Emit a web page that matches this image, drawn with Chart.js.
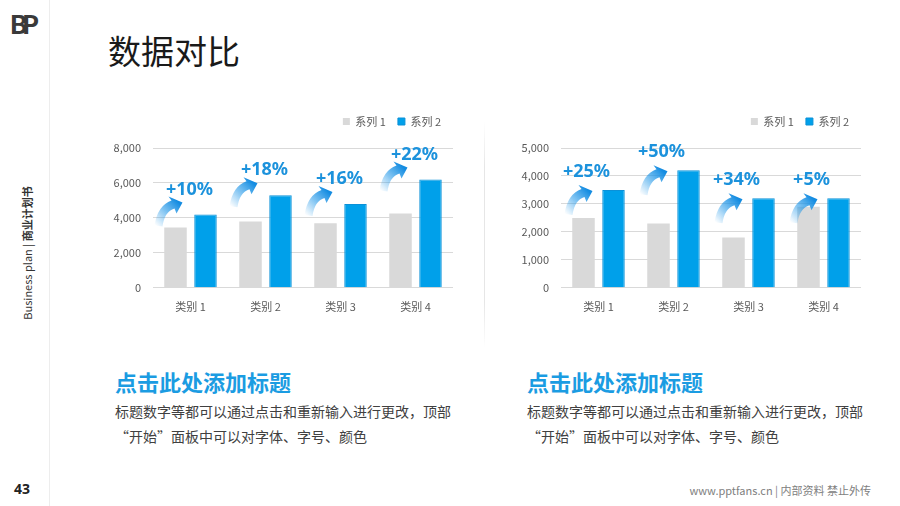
<!DOCTYPE html>
<html>
<head>
<meta charset="utf-8">
<script src="https://cdn.jsdelivr.net/npm/chart.js@4.4.0/dist/chart.umd.min.js"></script>
<style>
  html, body { margin: 0; padding: 0; background: #fff; }
  body { width: 900px; height: 506px; position: relative; overflow: hidden;
         font-family: "Noto Sans CJK SC", "Noto Sans", sans-serif; }
  .abs { position: absolute; }
  .logo { left: 10px; top: 8px; font: 900 26px Lato, "Noto Sans", sans-serif; color: #3a3a3a; letter-spacing: -5px; }
  .vline { left: 49px; top: 0; width: 1px; height: 506px; background: #ededed; }
  .side { left: 27px; top: 253px; transform: translate(-50%, -50%) rotate(-90deg); white-space: nowrap;
          font-size: 11px; color: #333; }
  .side b { font-weight: 700; }
  .title { left: 108px; top: 34px; font-size: 33px; line-height: 1; color: #1a1a1a; }
  .divider { left: 484px; top: 122px; width: 1px; height: 226px;
             background: linear-gradient(#fff, #e6e6e6 20%, #e6e6e6 80%, #fff); }
  .sub { top: 370px; font-size: 22px; line-height: 1; font-weight: 700; color: #1b9ce2; }
  .body { top: 399px; font-size: 14px; line-height: 25px; color: #404040; white-space: nowrap; }
  .page { left: 14px; top: 479px; font: 700 14px "Noto Sans", sans-serif; color: #222; }
  .foot { right: 29px; top: 482px; font-size: 11px; color: #808080; }
  .chart { position: absolute; }
</style>
</head>
<body>
<div class="abs logo">BP</div>
<div class="abs vline"></div>
<div class="abs side">Business plan | <b>商业计划书</b></div>
<div class="abs title">数据对比</div>
<div class="abs divider"></div>

<div class="chart" style="left:100px; top:104px; width:353px; height:213px;"><canvas id="leftChart"></canvas></div>
<div class="chart" style="left:505px; top:104px; width:356px; height:213px;"><canvas id="rightChart"></canvas></div>

<div class="abs sub" style="left:115px;">点击此处添加标题</div>
<div class="abs body" style="left:115px;">标题数字等都可以通过点击和重新输入进行更改，顶部<br>“开始”面板中可以对字体、字号、颜色</div>
<div class="abs sub" style="left:527px;">点击此处添加标题</div>
<div class="abs body" style="left:527px;">标题数字等都可以通过点击和重新输入进行更改，顶部<br>“开始”面板中可以对字体、字号、颜色</div>

<div class="abs page">43</div>
<div class="abs foot">www.pptfans.cn | 内部资料 禁止外传</div>

<script>
const categories = ['类别 1', '类别 2', '类别 3', '类别 4'];
const seriesNames = ['系列 1', '系列 2'];

const leftSeries1 = [3450, 3800, 3700, 4250];
const leftSeries2 = [4200, 5300, 4800, 6200];
const leftGrowth = ['+10%', '+18%', '+16%', '+22%'];
const leftTicks = [0, 2000, 4000, 6000, 8000];

const rightSeries1 = [2500, 2300, 1800, 2900];
const rightSeries2 = [3500, 4200, 3200, 3200];
const rightGrowth = ['+25%', '+50%', '+34%', '+5%'];
const rightTicks = [0, 1000, 2000, 3000, 4000, 5000];

Chart.defaults.font.family = '"Noto Sans CJK SC", "Noto Sans", sans-serif';

// curved gradient arrow, tip at (tx, ty)
function drawArrow(ctx, tx, ty) {
  ctx.save();
  ctx.translate(tx, ty);
  const g = ctx.createLinearGradient(-27, 23, -4, 0);
  g.addColorStop(0, 'rgba(40,155,235,0)');
  g.addColorStop(0.5, 'rgba(30,150,232,0.55)');
  g.addColorStop(1, 'rgba(20,140,225,1)');
  ctx.fillStyle = g;
  ctx.beginPath();
  ctx.moveTo(0, 0);
  ctx.lineTo(-6, 11);
  ctx.lineTo(-8, 6);
  ctx.quadraticCurveTo(-18, 9, -20, 24);
  ctx.lineTo(-28, 23);
  ctx.quadraticCurveTo(-25, 3, -11, -2);
  ctx.lineTo(-14, -6);
  ctx.closePath();
  ctx.fill();
  ctx.restore();
}

const growthPlugin = {
  id: 'growth',
  beforeInit(chart) {
    // leave a little more room under the legend
    const fit = chart.legend.fit;
    chart.legend.fit = function () {
      fit.call(this);
      this.height += 11;
    };
  },
  afterDatasetsDraw(chart, args, opts) {
    const ctx = chart.ctx;
    const meta = chart.getDatasetMeta(1);
    const xs = chart.scales.x;
    meta.data.forEach((bar, i) => {
      const cx = xs.getPixelForValue(i);
      drawArrow(ctx, cx + opts.arrowDx, bar.y + opts.arrowDy);
      ctx.save();
      ctx.font = 'bold 18px "Noto Sans", sans-serif';
      ctx.fillStyle = '#1c92dc';
      ctx.textAlign = 'center';
      ctx.textBaseline = 'middle';
      ctx.fillText(opts.labels[i], cx + opts.labelDx, bar.y + opts.labelDy);
      ctx.restore();
    });
  }
};

function makeChart(id, s1, s2, ticks, growth, yWidth, offs) {
  return new Chart(document.getElementById(id), {
    type: 'bar',
    data: {
      labels: categories,
      datasets: [
        { label: seriesNames[0], data: s1, backgroundColor: '#d9d9d9', borderWidth: 0,
          categoryPercentage: 0.8, barPercentage: 0.75 },
        { label: seriesNames[1], data: s2, backgroundColor: '#00a0ea', borderColor: '#0b91d8', borderWidth: 1,
          categoryPercentage: 0.8, barPercentage: 0.75 }
      ]
    },
    options: {
      responsive: true,
      maintainAspectRatio: false,
      animation: false,
      layout: { padding: 0 },
      plugins: {
        legend: {
          position: 'top', align: 'end', fullSize: false,
          labels: { boxWidth: 7, boxHeight: 7, padding: 12, color: '#595959', font: { size: 11 } }
        },
        tooltip: { enabled: false },
        growth: Object.assign({ labels: growth }, offs)
      },
      scales: {
        x: {
          grid: { display: false },
          border: { display: false },
          ticks: { color: '#595959', font: { size: 11 }, padding: 4 }
        },
        y: {
          min: ticks[0],
          max: ticks[ticks.length - 1],
          afterBuildTicks(scale) { scale.ticks = ticks.map(v => ({ value: v })); },
          afterFit(scale) { scale.width = yWidth; },
          grid: { color: '#d9d9d9', drawTicks: false },
          border: { display: false },
          ticks: { color: '#595959', font: { size: 11 }, padding: 12,
                   callback: v => v.toLocaleString('en-US') }
        }
      }
    },
    plugins: [growthPlugin]
  });
}

makeChart('leftChart', leftSeries1, leftSeries2, leftTicks, leftGrowth, 53,
  { arrowDx: -8, arrowDy: -12, labelDx: -1, labelDy: -25 });
makeChart('rightChart', rightSeries1, rightSeries2, rightTicks, rightGrowth, 56,
  { arrowDx: -6, arrowDy: 1, labelDx: -12, labelDy: -18 });
</script>
</body>
</html>
